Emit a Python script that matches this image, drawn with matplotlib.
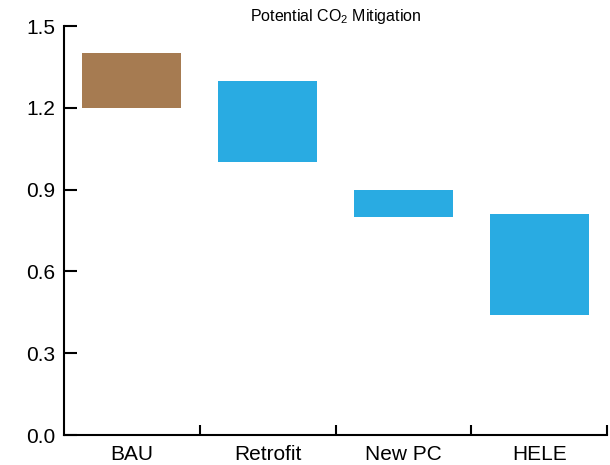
import matplotlib
matplotlib.use("Agg")
import matplotlib.pyplot as plt

# Potential CO2 mitigation ranges per scenario
categorias = ["BAU", "Retrofit", "New PC", "HELE"]
minimos = [1.2, 1.0, 0.8, 0.44]
maximos = [1.4, 1.3, 0.9, 0.81]
cores = ["#A67B51", "#29ABE2", "#29ABE2", "#29ABE2"]
yticks = [0.0, 0.3, 0.6, 0.9, 1.2, 1.5]

plt.rcParams["font.family"] = ["Liberation Sans", "DejaVu Sans"]
plt.rcParams["mathtext.fontset"] = "custom"
plt.rcParams["mathtext.rm"] = "Liberation Sans"
plt.rcParams["mathtext.it"] = "Liberation Sans:italic"

fig = plt.figure(figsize=(6.1, 4.65), dpi=100)
ax = fig.add_axes([0.1041, 0.0645, 0.8918, 0.8795])

x = list(range(len(categorias)))
alturas = [hi - lo for lo, hi in zip(minimos, maximos)]
ax.bar(x, alturas, bottom=minimos, width=0.73, color=cores, edgecolor="none")

ax.set_xlim(-0.5, len(categorias) - 0.5)
ax.set_ylim(0, 1.5)
ax.set_yticks(yticks)
ax.set_yticklabels([f"{v:.1f}" for v in yticks], fontsize=15)
ax.set_xticks(x)
ax.set_xticklabels(categorias, fontsize=15)
ax.tick_params(axis="x", which="major", length=0, pad=7)
ax.set_xticks([i + 0.5 for i in x], minor=True)
ax.tick_params(axis="x", which="minor", direction="in", length=7, width=1.5)
ax.tick_params(axis="y", direction="in", length=9.5, width=1.5, pad=6)

for lado in ["top", "right"]:
    ax.spines[lado].set_visible(False)
for lado in ["left", "bottom"]:
    ax.spines[lado].set_linewidth(1.5)

ax.set_title(r"Potential CO$_\mathrm{2}$ Mitigation", fontsize=11.5, pad=0)

fig.savefig("out.png", dpi=100)
